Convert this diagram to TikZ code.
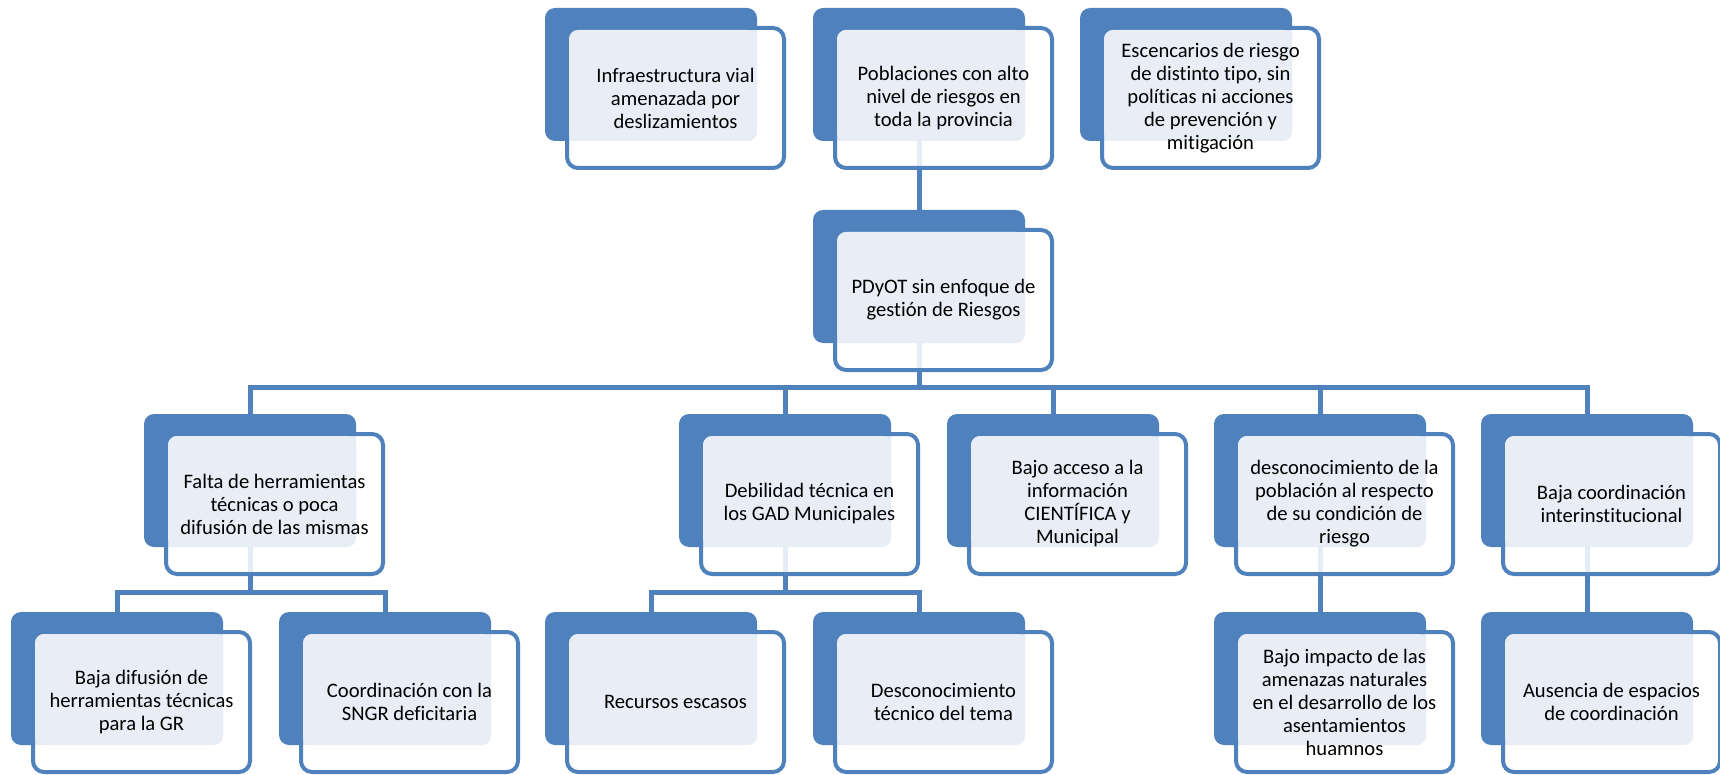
\documentclass[tikz,border=0pt]{standalone}
\usepackage{fontspec}
\setmainfont{Carlito}[RawFeature={-liga;-clig;-calt;-dlig}]
\usetikzlibrary{positioning,calc,backgrounds}
\definecolor{azul}{RGB}{79,129,189}
\definecolor{claro}{RGB}{233,238,246}
\tikzset{
  fondo/.style={rectangle,rounded corners=10pt,fill=azul,anchor=north west,
    minimum width=212pt,minimum height=133pt,inner sep=0pt,outer sep=0pt},
  frente/.style={rectangle,rounded corners=11pt,draw=azul,fill=white,fill opacity=0.85,
    line width=4pt,anchor=north west,minimum width=217pt,minimum height=140pt,
    inner sep=0pt,outer sep=0pt},
  tinte/.style={rectangle,rounded corners=9pt,fill=claro,anchor=north west,
    minimum width=188pt,minimum height=111pt,inner sep=0pt,outer sep=0pt},
  texto/.style={align=center,font=\fontsize{20.6}{23}\selectfont,inner sep=0pt},
  enlace/.style={draw=azul,line width=5pt},
}
% caja: nombre, x, y (esquina del fondo), texto
\newcommand{\caja}[4]{%
  \node[fondo] (#1-b) at (#2,#3) {};
  \node[frente] (#1-f) at ($(#1-b.north west)+(22,20)$) {};
  \node[tinte] (#1-t) at ($(#1-f.north west)+(2,2)$) {};
  \node[texto] (#1) at (#1-f.center) {#4};
}

\begin{document}
\begin{tikzpicture}[x=1pt,y=-1pt]
  \useasboundingbox (0,0) rectangle (1720,775);
  % efectos
  \caja{infra}{545}{8}{Infraestructura vial\\amenazada por\\deslizamientos}
  \caja{pobl}{813}{8}{Poblaciones con alto\\nivel de riesgos en\\toda la provincia}
  \caja{escen}{1080}{8}{Escencarios de riesgo\\de distinto tipo, sin\\políticas ni acciones\\de prevención y\\mitigación}
  % problema central
  \caja{pdyot}{813}{210}{PDyOT sin enfoque de\\gestión de Riesgos}
  % causas
  \caja{falta}{144}{414}{Falta de herramientas\\técnicas o poca\\difusión de las mismas}
  \caja{debil}{679}{414}{Debilidad técnica en\\los GAD Municipales}
  \caja{acceso}{947}{414}{Bajo acceso a la\\información\\CIENTÍFICA y\\Municipal}
  \caja{descon}{1214}{414}{desconocimiento de la\\población al respecto\\de su condición de\\riesgo}
  \caja{coord}{1481}{414}{Baja coordinación\\interinstitucional}
  % subcausas
  \caja{difus}{11}{612}{Baja difusión de\\herramientas técnicas\\para la GR}
  \caja{sngr}{279}{612}{Coordinación con la\\SNGR deficitaria}
  \caja{recur}{545}{612}{Recursos escasos}
  \caja{desct}{813}{612}{Desconocimiento\\técnico del tema}
  \caja{impac}{1214}{612}{Bajo impacto de las\\amenazas naturales\\en el desarrollo de los\\asentamientos\\huamnos}
  \caja{ausen}{1481}{612}{Ausencia de espacios\\de coordinación}
  % conectores
  \begin{scope}[on background layer]
    \coordinate (barra1) at (0,387);
    \coordinate (barra2) at (0,592);
    \draw[enlace] (pobl-b.south) -- (pdyot-b.north);
    \draw[enlace] (pdyot-b.south) -- (pdyot-b.south |- barra1);
    \draw[enlace] (falta-b.north) |- (barra1 -| coord-b.north) -- (coord-b.north);
    \foreach \n in {debil,acceso,descon}
      \draw[enlace] (\n-b.north) -- (\n-b.north |- barra1);
    \draw[enlace] (falta-b.south) -- (falta-b.south |- barra2);
    \draw[enlace] (difus-b.north) |- (barra2 -| sngr-b.north) -- (sngr-b.north);
    \draw[enlace] (debil-b.south) -- (debil-b.south |- barra2);
    \draw[enlace] (recur-b.north) |- (barra2 -| desct-b.north) -- (desct-b.north);
    \draw[enlace] (descon-b.south) -- (impac-b.north);
    \draw[enlace] (coord-b.south) -- (ausen-b.north);
  \end{scope}
\end{tikzpicture}
\end{document}
